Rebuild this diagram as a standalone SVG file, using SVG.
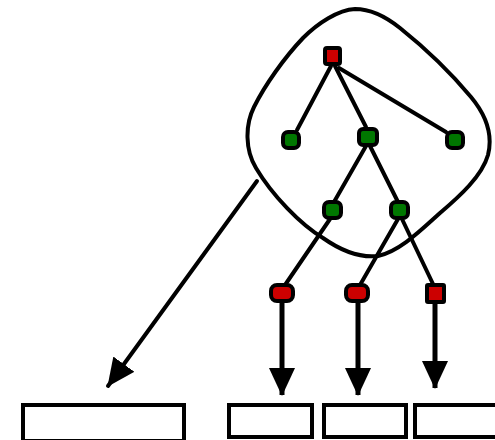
<svg xmlns="http://www.w3.org/2000/svg" width="495" height="440" viewBox="0 0 495 440">
  <style>
    .edge { stroke: #000; stroke-width: 4; fill: none; stroke-linecap: round; }
    .thick { stroke-width: 5; stroke-linecap: butt; }
    .blob { stroke: #000; stroke-width: 4; fill: none; }
    .red { fill: #cc0000; stroke: #000; stroke-width: 4; }
    .green { fill: #007700; stroke: #000; stroke-width: 4; }
    .box { fill: #fff; stroke: #000; stroke-width: 4; }
  </style>
  <defs>
    <marker id="head" viewBox="0 0 28 26" refX="27" refY="13" markerWidth="28" markerHeight="26" orient="auto" markerUnits="userSpaceOnUse">
      <path d="M0,0 L28,13 L0,26 z" fill="#000"/>
    </marker>
  </defs>

  <!-- closed outline around the upper tree -->
  <path class="blob" d="M355,9 C338,10 318,23 303,38 C284,58 265,85 254,107 C245,125 245,150 256,168 C272,195 300,224 323,238 C340,250 360,258 378,256 C400,251 420,231 440,213 C460,196 482,176 488,155 C493,135 486,115 471,97 C451,73 425,48 400,28 C385,16 370,9 355,9 Z"/>

  <!-- connectors -->
  <g id="connectors">
    <line class="edge" x1="331" y1="66" x2="297" y2="130"/>
    <line class="edge" x1="335" y1="66" x2="366" y2="127"/>
    <line class="edge" x1="339" y1="68" x2="446" y2="132"/>
    <line class="edge" x1="366" y1="146" x2="334" y2="202"/>
    <line class="edge" x1="370" y1="146" x2="398" y2="202"/>
    <line class="edge" x1="330" y1="219" x2="285" y2="285"/>
    <line class="edge" x1="398" y1="219" x2="360" y2="285"/>
    <line class="edge" x1="402" y1="219" x2="433" y2="284"/>
    <line class="edge" x1="257" y1="181" x2="108" y2="386" marker-end="url(#head)"/>
    <line class="edge thick" x1="282" y1="302" x2="282" y2="395" marker-end="url(#head)"/>
    <line class="edge thick" x1="358" y1="302" x2="358" y2="395" marker-end="url(#head)"/>
    <line class="edge thick" x1="435" y1="302" x2="435" y2="388" marker-end="url(#head)"/>
  </g>

  <!-- tree nodes -->
  <g id="root"><rect class="red" x="325" y="48" width="15" height="16" rx="2"/></g>
  <g id="g1"><rect class="green" x="283" y="132" width="16" height="16" rx="5"/></g>
  <g id="g2"><rect class="green" x="359" y="129" width="18" height="16" rx="4"/></g>
  <g id="g3"><rect class="green" x="447" y="132" width="16" height="16" rx="5"/></g>
  <g id="g4"><rect class="green" x="324" y="202" width="17" height="16" rx="5"/></g>
  <g id="g5"><rect class="green" x="391" y="202" width="17" height="16" rx="5"/></g>
  <g id="r1"><rect class="red" x="271" y="285" width="22" height="16" rx="6"/></g>
  <g id="r2"><rect class="red" x="346" y="285" width="22" height="16" rx="6"/></g>
  <g id="r3"><rect class="red" x="427" y="285" width="17" height="17" rx="1"/></g>

  <!-- boxes -->
  <g id="box1"><rect class="box" x="23" y="405" width="161" height="36"/></g>
  <g id="box2"><rect class="box" x="229" y="405" width="83" height="32"/></g>
  <g id="box3"><rect class="box" x="324" y="405" width="82" height="32"/></g>
  <g id="box4"><rect class="box" x="415" y="405" width="82" height="32"/></g>
</svg>
